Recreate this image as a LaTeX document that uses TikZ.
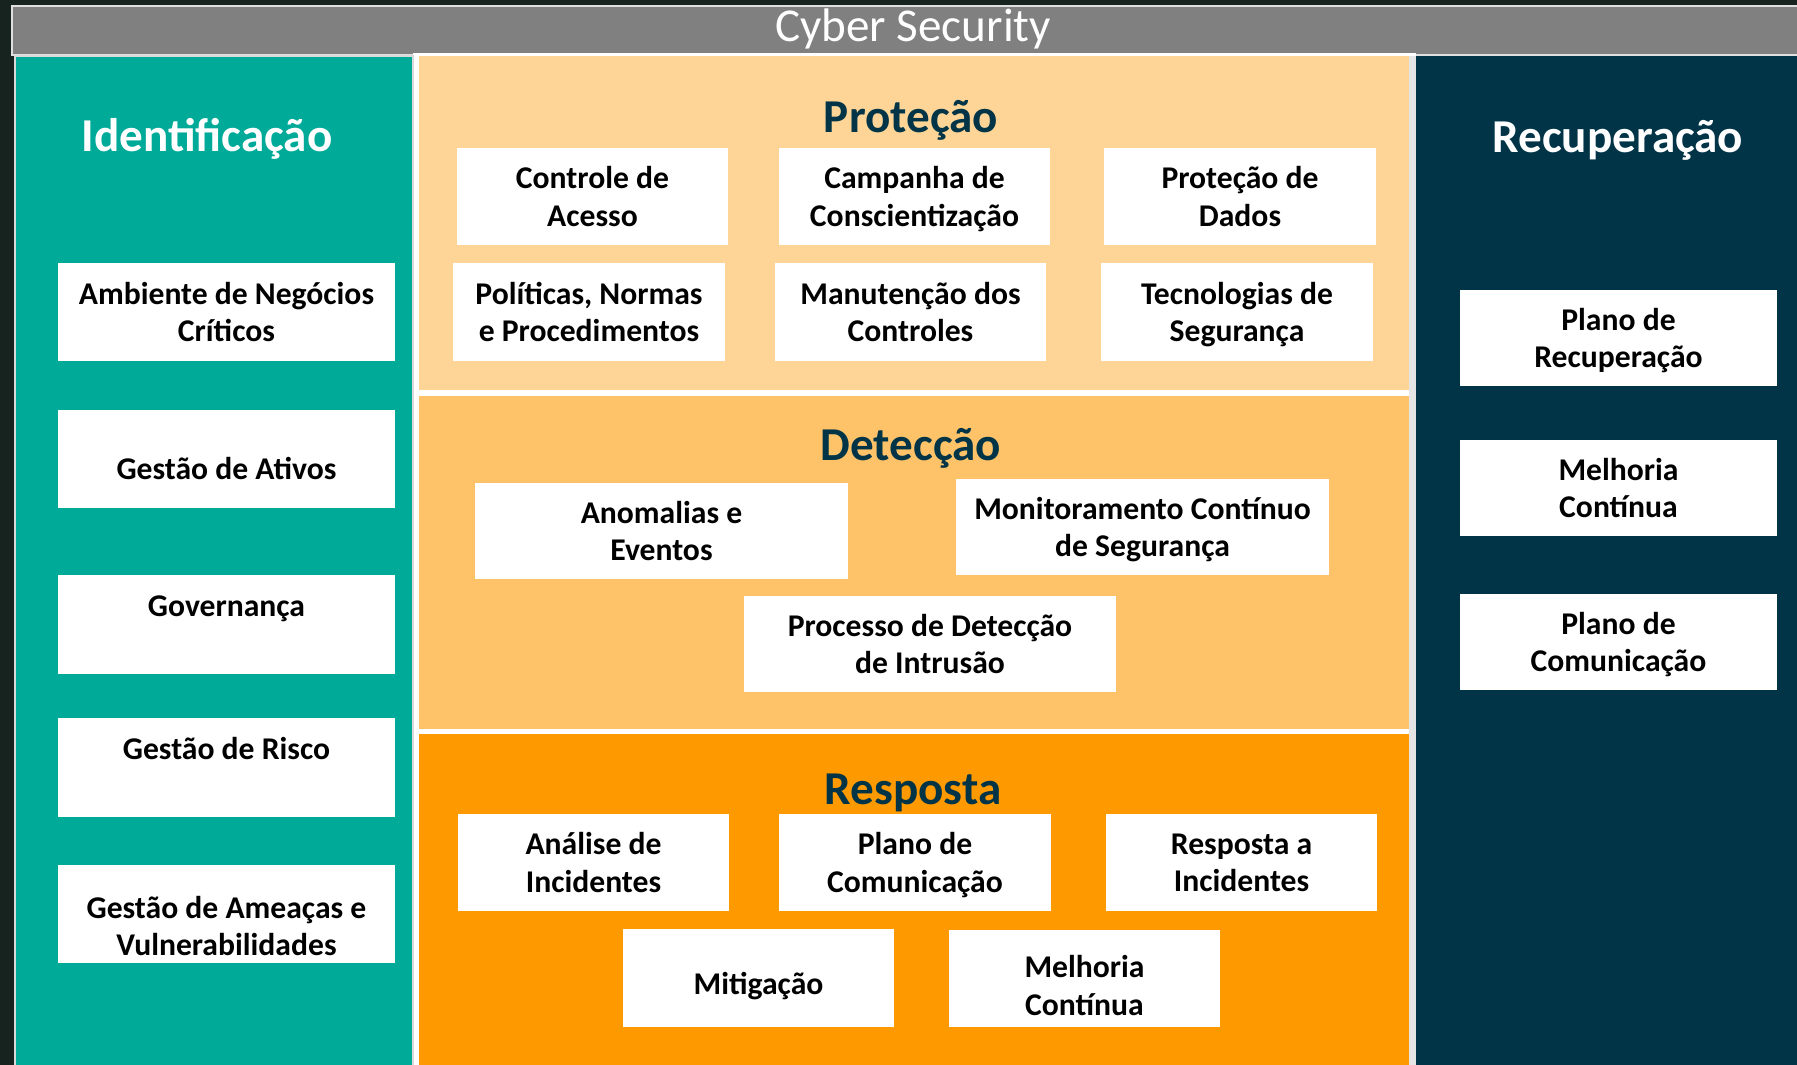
\documentclass[tikz,border=0pt]{standalone}
\usepackage{fontspec}
\setmainfont{Carlito}

\definecolor{bgdark}{HTML}{17231F}
\definecolor{bargrey}{HTML}{808080}
\definecolor{idteal}{HTML}{00AA99}
\definecolor{protlight}{HTML}{FED597}
\definecolor{detmid}{HTML}{FEC268}
\definecolor{respor}{HTML}{FF9900}
\definecolor{recnavy}{HTML}{003446}

\begin{document}
\begin{tikzpicture}[x=0.01cm, y=-0.01cm,
    card/.style={fill=white, inner sep=0pt, align=center, text=black,
        text depth=0pt, font=\bfseries\fontsize{9}{10.6}\selectfont,
        minimum width=2.71cm, minimum height=0.97cm},
    leftcard/.style={card, minimum width=3.37cm, minimum height=0.98cm},
    rightcard/.style={card, minimum width=3.17cm, minimum height=0.96cm},
    detcard/.style={card, minimum width=3.72cm, minimum height=0.96cm},
    cardtext/.style={inner sep=0pt, align=center, text=black, text depth=0pt,
        font=\bfseries\fontsize{9}{10.6}\selectfont},
    heading/.style={inner sep=0pt, font=\bfseries\fontsize{13.4}{16}\selectfont},
    title/.style={inner sep=0pt, text=white, font=\fontsize{13.4}{16}\selectfont}]

    \useasboundingbox (0,0) rectangle (1797,1065);
    \fill[bgdark] (0,0) rectangle (1797,1065);

    % title bar
    \draw[fill=bargrey, draw=white!88!black, line width=0.6pt] (12,6) rectangle (1810,55);
    \node[title] (title) at (913,29) {Cyber Security};

    % columns and bands
    \fill[white] (413,53) rectangle (1416,1075);
    \draw[fill=idteal, draw=white!85!black, line width=0.5pt] (15,56) rectangle (413,1080); % left
    \fill[protlight] (419,56) rectangle (1409,390);   % top band
    \fill[detmid] (419,396) rectangle (1409,729);     % middle band
    \fill[respor] (419,734) rectangle (1409,1075);    % bottom band
    \fill[white!90!black] (1409,56) rectangle (1416,1075);
    \fill[recnavy] (1416,56) rectangle (1810,1075);   % right

    % headings
    \node[heading, text=white] (ident) at (207,139) {Identificação};
    \node[heading, text=white] (recup) at (1618,140) {Recuperação};
    \node[heading, text=recnavy] (prot) at (911,120) {Proteção};
    \node[heading, text=recnavy] (detec) at (911,448) {Detecção};
    \node[heading, text=recnavy] (resp) at (913,793) {Resposta};

    % left column
    \node[leftcard] (ambiente) at (226.5,312) {Ambiente de Negócios\\Críticos};
    \node[leftcard] (ativos) at (226.5,459) {};
    \node[cardtext] at ([yshift=-0.09cm]ativos.center) {Gestão de Ativos};
    \node[leftcard] (governanca) at (226.5,624.5) {Governança\\\mbox{}};
    \node[leftcard] (risco) at (226.5,767.5) {Gestão de Risco\\\mbox{}};
    \node[leftcard] (ameacas) at (226.5,914) {};
    \node[cardtext] at ([yshift=-0.12cm]ameacas.center) {Gestão de Ameaças e\\Vulnerabilidades};

    % protecao
    \node[card] (acesso) at (592.5,196.5) {Controle de\\Acesso};
    \node[card] (campanha) at (914.5,196.5) {Campanha de\\Conscientização};
    \node[card] (dados) at (1240,196.5) {Proteção de\\Dados};
    \node[card] (politicas) at (589,312) {Políticas, Normas\\e Procedimentos};
    \node[card] (manutencao) at (910.5,312) {Manutenção dos\\Controles};
    \node[card] (tecnologias) at (1237,312) {Tecnologias de\\Segurança};

    % deteccao
    \node[detcard] (anomalias) at (661.5,531) {Anomalias e\\Eventos};
    \node[detcard] (monitor) at (1142.5,527) {Monitoramento Contínuo\\de Segurança};
    \node[detcard] (intrusao) at (930,644) {Processo de Detecção\\de Intrusão};

    % resposta
    \node[card] (analise) at (593.5,862.5) {Análise de\\Incidentes};
    \node[card] (comresp) at (915,862.5) {Plano de\\Comunicação};
    \node[card] (incidentes) at (1241.5,862.5) {Resposta a\\Incidentes};
    \node[card] (mitigacao) at (758.5,978) {};
    \node[cardtext] at ([yshift=-0.05cm]mitigacao.center) {Mitigação};
    \node[card] (melhresp) at (1084.5,978.5) {};
    \node[cardtext] at ([yshift=-0.07cm]melhresp.center) {Melhoria\\Contínua};

    % recuperacao
    \node[rightcard] (planorec) at (1618.5,338) {Plano de\\Recuperação};
    \node[rightcard] (melhrec) at (1618.5,488) {Melhoria\\Contínua};
    \node[rightcard] (comrec) at (1618.5,642) {Plano de\\Comunicação};

\end{tikzpicture}
\end{document}
